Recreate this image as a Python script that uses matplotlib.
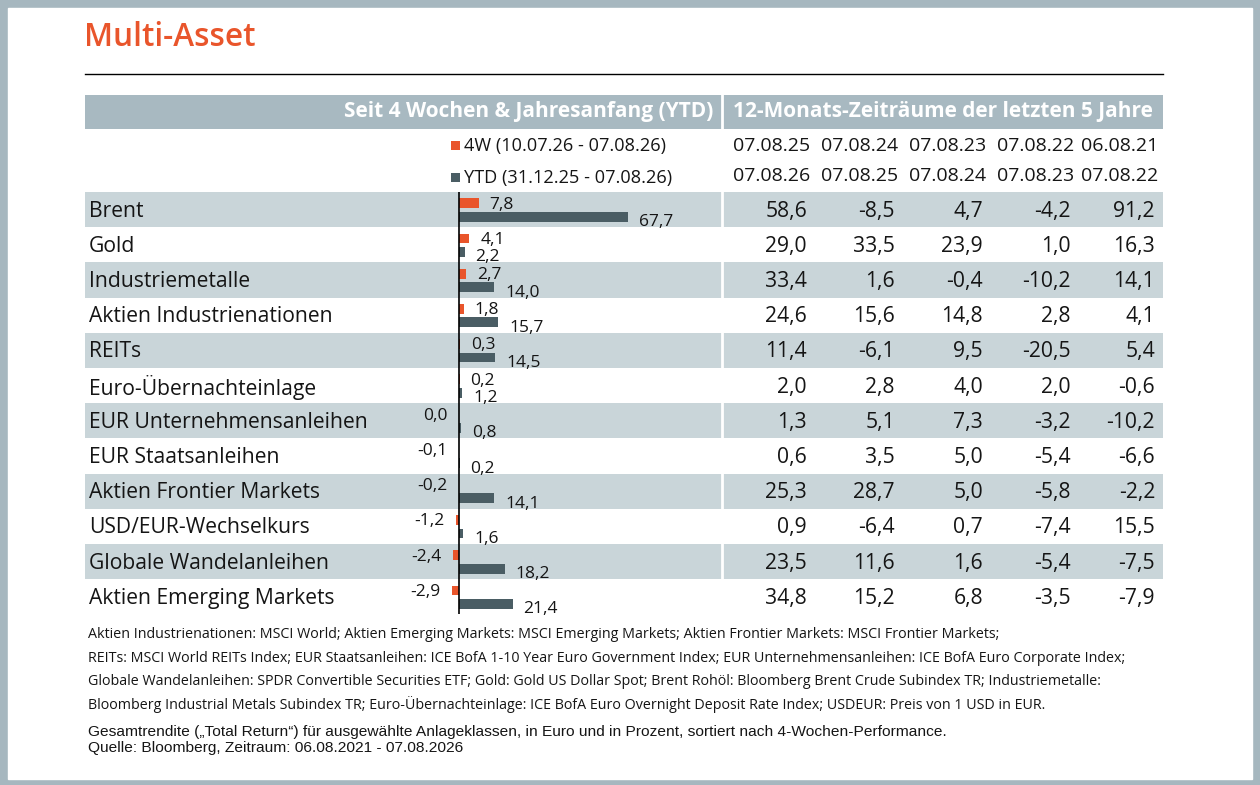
import matplotlib
matplotlib.use("Agg")
import matplotlib.pyplot as plt
from matplotlib.patches import Rectangle

# data
assets = ['Brent', 'Gold', 'Industriemetalle', 'Aktien Industrienationen', 'REITs',
          'Euro-Übernachteinlage', 'EUR Unternehmensanleihen', 'EUR Staatsanleihen',
          'Aktien Frontier Markets', 'USD/EUR-Wechselkurs', 'Globale Wandelanleihen',
          'Aktien Emerging Markets']
w4 = [7.8, 4.1, 2.7, 1.8, 0.3, 0.2, 0.0, -0.1, -0.2, -1.2, -2.4, -2.9]
ytd = [67.7, 2.2, 14.0, 15.7, 14.5, 1.2, 0.8, 0.2, 14.1, 1.6, 18.2, 21.4]
period_from = ['07.08.25', '07.08.24', '07.08.23', '07.08.22', '06.08.21']
period_to = ['07.08.26', '07.08.25', '07.08.24', '07.08.23', '07.08.22']
p1 = [58.6, 29.0, 33.4, 24.6, 11.4, 2.0, 1.3, 0.6, 25.3, 0.9, 23.5, 34.8]
p2 = [-8.5, 33.5, 1.6, 15.6, -6.1, 2.8, 5.1, 3.5, 28.7, -6.4, 11.6, 15.2]
p3 = [4.7, 23.9, -0.4, 14.8, 9.5, 4.0, 7.3, 5.0, 5.0, 0.7, 1.6, 6.8]
p4 = [-4.2, 1.0, -10.2, 2.8, -20.5, 2.0, -3.2, -5.4, -5.8, -7.4, -5.4, -3.5]
p5 = [91.2, 16.3, 14.1, 4.1, 5.4, -0.6, -10.2, -6.6, -2.2, 15.5, -7.5, -7.9]
periods = [p1, p2, p3, p4, p5]

legend_4w = '4W (10.07.26 - 07.08.26)'
legend_ytd = 'YTD (31.12.25 - 07.08.26)'
head_left = 'Seit 4 Wochen & Jahresanfang (YTD)'
head_right = '12-Monats-Zeiträume der letzten 5 Jahre'
notes = [
    'Aktien Industrienationen: MSCI World; Aktien Emerging Markets: MSCI Emerging Markets; Aktien Frontier Markets: MSCI Frontier Markets;',
    'REITs: MSCI World REITs Index; EUR Staatsanleihen: ICE BofA 1-10 Year Euro Government Index; EUR Unternehmensanleihen: ICE BofA Euro Corporate Index;',
    'Globale Wandelanleihen: SPDR Convertible Securities ETF; Gold: Gold US Dollar Spot; Brent Rohöl: Bloomberg Brent Crude Subindex TR; Industriemetalle:',
    'Bloomberg Industrial Metals Subindex TR; Euro-Übernachteinlage: ICE BofA Euro Overnight Deposit Rate Index; USDEUR: Preis von 1 USD in EUR.',
]
source = ['Gesamtrendite („Total Return“) für ausgewählte Anlageklassen, in Euro und in Prozent, sortiert nach 4-Wochen-Performance.',
          'Quelle: Bloomberg, Zeitraum: 06.08.2021 - 07.08.2026']

ORANGE = '#e9552b'
DARK = '#4a5d64'
BAND = '#c9d5d9'
HEAD = '#a8b9c1'
FRAME = '#a6b7bf'
TXT = '#151515'
FONT = 'Open Sans'

def fmt(v):
    return f'{v:.1f}'.replace('.', ',')

W, H = 1260, 785
fig = plt.figure(figsize=(W / 100, H / 100), dpi=100)
fig.patch.set_facecolor(FRAME)

# background axes in pixel units
bg = fig.add_axes([0, 0, 1, 1])
bg.set_xlim(0, W)
bg.set_ylim(H, 0)
bg.axis('off')
bg.add_patch(Rectangle((8, 8), W - 16, H - 14, color='white', zorder=0))

bg.text(84, 38, 'Multi-Asset', color=ORANGE, fontsize=22.7, fontweight='semibold',
        family=FONT, va='center', ha='left')
bg.plot([85, 1163], [74, 74], color='black', lw=1)

# header band
bg.add_patch(Rectangle((85, 95), 1163 - 85, 34, color=HEAD, lw=0))
bg.plot([722, 722], [95, 129], color='white', lw=2)
bg.text(713, 111, head_left, color='white', fontsize=15, fontweight='bold',
        family=FONT, ha='right', va='center')
bg.text(733, 111, head_right, color='white', fontsize=15, fontweight='bold',
        family=FONT, ha='left', va='center')

# legend
bg.add_patch(Rectangle((451, 141), 9, 9, color=ORANGE, lw=0))
bg.add_patch(Rectangle((451, 173), 9, 9, color=DARK, lw=0))
bg.text(464, 146, legend_4w, fontsize=13.1, family=FONT, va='center', color=TXT)
bg.text(464, 178, legend_ytd, fontsize=13.1, family=FONT, va='center', color=TXT)

col_x = [810, 898, 986, 1074, 1158]
for x, a, b in zip(col_x, period_from, period_to):
    bg.text(x, 146, a, fontsize=14, family=FONT, ha='right', va='center', color=TXT)
    bg.text(x, 176, b, fontsize=14, family=FONT, ha='right', va='center', color=TXT)

# table rows
top, row_h = 192, 35.2
n = len(assets)
tab = fig.add_axes([85 / W, 1 - (top + n * row_h) / H, (1163 - 85) / W, n * row_h / H])
tab.set_xlim(85, 1163)
tab.set_ylim(n - 0.5, -0.5)
tab.axis('off')
tab.patch.set_alpha(0)
for i, name in enumerate(assets):
    if i % 2 == 0:
        tab.axhspan(i - 0.5, i + 0.5, color=BAND, lw=0, zorder=0)
    tab.text(89, i + 0.04, name, fontsize=15.2, family=FONT, va='center', ha='left', color=TXT)
    for x, vals in zip(col_x, periods):
        tab.text(x - 3, i + 0.04, fmt(vals[i]), fontsize=15.2, family=FONT, va='center',
                 ha='right', color=TXT)
tab.axvline(722, color='white', lw=2, zorder=1)

# bars, zero at pixel 459, 2.5 px per percent point
x0_px, x1_px, zero_px, scale = 440, 720, 459, 2.5
bx = fig.add_axes([x0_px / W, 1 - (top + n * row_h) / H, (x1_px - x0_px) / W, n * row_h / H])
bx.set_xlim((x0_px - zero_px) / scale, (x1_px - zero_px) / scale)
bx.set_ylim(n - 0.5, -0.5)
bx.axis('off')
bx.patch.set_alpha(0)
ypos = list(range(n))
bh = 0.28
bx.barh([y - 0.18 for y in ypos], w4, height=bh, color=ORANGE)
bx.barh([y + 0.2 for y in ypos], ytd, height=bh, color=DARK)
bx.axvline(0, color='black', lw=1.2)
for i in ypos:
    for v, off, dy in ((w4[i], -0.18, -1), (ytd[i], 0.2, -4)):
        if v > 0:
            bx.annotate(fmt(v), (v, i + off), xytext=(8, dy), textcoords='offset points',
                        ha='left', va='center', fontsize=12.5, family=FONT, color=TXT)
        else:
            bx.annotate(fmt(v), (min(v, 0), i + off), xytext=(-8, dy), textcoords='offset points',
                        ha='right', va='center', fontsize=12.5, family=FONT, color=TXT)

# footnotes
for k, line in enumerate(notes):
    bg.text(88, 635 + k * 23.3, line, fontsize=10.25, family=FONT, va='center', color=TXT)
bg.text(88, 732, source[0], fontsize=11.13, family='Liberation Sans', va='center', color=TXT)
bg.text(88, 748, source[1], fontsize=11.13, family='Liberation Sans', va='center', color=TXT)

fig.savefig('out.png', dpi=100, facecolor=fig.get_facecolor())
